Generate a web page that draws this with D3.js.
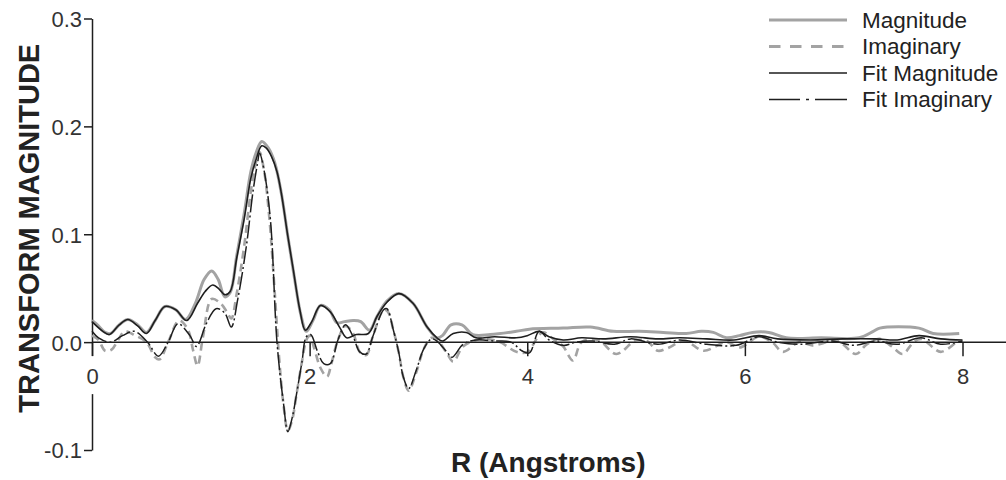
<!DOCTYPE html>
<html>
<head>
<meta charset="utf-8">
<script src="https://cdn.jsdelivr.net/npm/d3@7"></script>
<style>
  html, body { margin: 0; padding: 0; background: #fff; }
  svg { display: block; }
  text { font-family: "Liberation Sans", Arial, sans-serif; }
</style>
</head>
<body>
<svg id="chart" width="1006" height="480"></svg>
<script>
// ---------------- data ----------------
const magR = [0,0.05,0.12,0.17,0.25,0.33,0.42,0.50,0.58,0.67,0.77,0.86,0.95,1.03,1.10,1.16,1.22,1.27,1.33,1.40,1.46,1.51,1.56,1.62,1.68,1.74,1.80,1.86,1.92,1.97,2.03,2.10,2.18,2.25,2.32,2.40,2.47,2.55,2.62,2.71,2.82,2.95,3.08,3.17,3.22,3.30,3.40,3.50,3.66,3.90,4.02,4.33,4.58,4.79,5.03,5.25,5.46,5.60,5.71,5.83,5.95,6.07,6.22,6.38,6.70,7.05,7.18,7.24,7.60,7.73,7.97];
const magV = [0.020,0.016,0.009,0.008,0.016,0.021,0.016,0.009,0.020,0.033,0.030,0.021,0.036,0.058,0.066,0.058,0.042,0.046,0.080,0.120,0.158,0.176,0.186,0.180,0.166,0.138,0.098,0.060,0.025,0.010,0.020,0.034,0.030,0.018,0.019,0.020,0.019,0.011,0.024,0.038,0.045,0.036,0.014,0.004,0.006,0.016,0.016,0.007,0.007,0.010,0.012,0.013,0.014,0.010,0.010,0.009,0.008,0.010,0.009,0.004,0.006,0.009,0.009,0.004,0.004,0.004,0.010,0.013,0.013,0.008,0.008];

const imagR = [0,0.06,0.12,0.18,0.24,0.30,0.40,0.50,0.58,0.62,0.70,0.80,0.88,0.93,0.97,1.02,1.10,1.18,1.24,1.28,1.33,1.40,1.46,1.51,1.54,1.58,1.63,1.68,1.72,1.76,1.80,1.84,1.88,1.93,1.97,2.00,2.04,2.10,2.16,2.20,2.26,2.33,2.40,2.46,2.52,2.58,2.68,2.72,2.77,2.82,2.86,2.91,2.98,3.05,3.12,3.18,3.26,3.32,3.41,3.53,3.62,3.75,3.90,4.00,4.14,4.25,4.33,4.42,4.50,4.65,4.82,5.00,5.10,5.20,5.28,5.45,5.62,5.83,5.95,6.13,6.25,6.35,6.50,6.62,6.85,7.02,7.12,7.24,7.35,7.45,7.55,7.62,7.80,7.93];
const imagV = [0.006,0.002,-0.008,-0.007,0.002,0.010,0.006,0.000,-0.014,-0.016,0.000,0.020,0.012,-0.008,-0.022,0.005,0.040,0.036,0.028,0.022,0.045,0.090,0.140,0.168,0.176,0.160,0.115,0.045,-0.015,-0.058,-0.082,-0.072,-0.048,-0.018,0.002,0.006,-0.005,-0.024,-0.032,-0.020,0.002,0.015,0.008,-0.009,-0.012,0.005,0.030,0.028,0.011,-0.010,-0.032,-0.045,-0.028,-0.006,0.004,0.001,-0.010,-0.018,-0.004,0.002,0.003,0.000,-0.009,-0.009,0.009,0.002,-0.004,-0.017,0.000,0.002,-0.011,0.002,0.001,-0.008,-0.006,0.001,-0.008,0.000,-0.005,0.005,0.000,-0.009,0.000,-0.003,0.001,-0.011,-0.002,0.003,-0.004,-0.011,0.000,0.003,-0.009,-0.001];

const fitMagR = [0,0.10,0.16,0.25,0.33,0.42,0.50,0.58,0.67,0.77,0.87,0.97,1.04,1.11,1.17,1.22,1.27,1.33,1.40,1.46,1.51,1.56,1.60,1.65,1.70,1.74,1.80,1.85,1.91,1.96,2.02,2.10,2.19,2.28,2.34,2.43,2.54,2.62,2.71,2.82,2.95,3.08,3.17,3.22,3.32,3.44,3.53,3.70,3.90,4.00,4.11,4.20,4.33,4.50,4.70,4.95,5.20,5.40,5.65,5.90,6.13,6.30,6.60,6.90,7.20,7.40,7.60,7.80,8.00];
const fitMagV = [0.019,0.010,0.007,0.016,0.021,0.015,0.008,0.020,0.033,0.030,0.020,0.036,0.047,0.053,0.049,0.044,0.047,0.078,0.115,0.152,0.170,0.182,0.180,0.172,0.158,0.138,0.098,0.067,0.030,0.011,0.019,0.034,0.028,0.013,0.004,0.007,0.008,0.024,0.037,0.045,0.036,0.014,0.004,0.001,0.008,0.009,0.004,0.005,0.004,0.006,0.010,0.005,0.002,0.004,0.003,0.005,0.003,0.004,0.003,0.002,0.006,0.003,0.002,0.003,0.003,0.002,0.006,0.003,0.002];

const fitImagR = [0,0.06,0.17,0.28,0.39,0.51,0.61,0.70,0.79,0.90,0.96,1.05,1.14,1.22,1.28,1.34,1.42,1.48,1.52,1.54,1.58,1.64,1.70,1.76,1.80,1.84,1.88,1.93,1.97,2.01,2.07,2.13,2.19,2.26,2.33,2.40,2.46,2.52,2.58,2.68,2.71,2.77,2.82,2.86,2.91,2.98,3.05,3.12,3.17,3.26,3.31,3.41,3.53,3.70,3.85,3.95,4.02,4.11,4.20,4.33,4.45,4.60,4.80,4.95,5.20,5.40,5.65,5.92,6.13,6.30,6.50,6.80,7.00,7.20,7.40,7.62,7.80,8.00];
const fitImagV = [0.010,0.004,0.000,0.006,0.010,0.000,-0.013,0.000,0.017,0.006,-0.004,0.017,0.031,0.027,0.014,0.040,0.090,0.140,0.165,0.175,0.160,0.113,0.000,-0.057,-0.083,-0.070,-0.048,-0.018,0.005,0.007,-0.008,-0.020,-0.020,0.002,0.016,0.005,-0.009,-0.011,0.005,0.030,0.031,0.011,-0.010,-0.032,-0.043,-0.026,-0.006,0.003,0.001,-0.009,-0.014,-0.002,0.002,0.001,0.000,-0.008,-0.010,0.010,0.002,-0.003,0.000,0.001,-0.002,0.003,-0.002,0.002,-0.002,-0.003,0.005,0.000,-0.002,0.001,-0.003,0.001,-0.002,0.004,-0.002,0.001];

const xTicks = [0, 2, 4, 6, 8];
const yTicks = [-0.1, 0.0, 0.1, 0.2, 0.3];
const legendLabels = ["Magnitude", "Imaginary", "Fit Magnitude", "Fit Imaginary"];
const xTitle = "R (Angstroms)";
const yTitle = "TRANSFORM MAGNITUDE";

// ---------------- styles ----------------
const GRAY = "#a3a3a3";
const INK = "#1e1e1e";
const styles = [
  { stroke: GRAY, width: 3,   dash: null,        legendDash: null },
  { stroke: GRAY, width: 2.6, dash: "8,5",       legendDash: "11.5,9.5" },
  { stroke: INK,  width: 1.6, dash: null,        legendDash: null },
  { stroke: INK,  width: 1.5, dash: "18,3,2,3",  legendDash: "31,6,3,6,40" }
];

// ---------------- chart ----------------
const W = 1006, H = 480;
const svg = d3.select("#chart");
svg.append("rect").attr("width", W).attr("height", H).attr("fill", "#fff");

const x = d3.scaleLinear().domain([0, 8]).range([92, 962.5]);
const y = d3.scaleLinear().domain([-0.1, 0.3]).range([450, 18.5]);

// y axis
const yAxis = d3.axisLeft(y).tickValues(yTicks).tickSize(8).tickSizeOuter(0).tickPadding(2)
  .tickFormat(d => d.toFixed(1));
const gy = svg.append("g").attr("transform", `translate(${x(0)},0)`).call(yAxis);
gy.select(".domain").attr("stroke", INK).attr("stroke-width", 1.5);
gy.selectAll(".tick line").attr("stroke", INK).attr("stroke-width", 1.5);
gy.selectAll(".tick text").attr("font-size", 22).attr("fill", "#333").attr("dy", "0.36em");

// series
const series = [
  magR.map((r, i) => [r, magV[i]]),
  imagR.map((r, i) => [r, imagV[i]]),
  fitMagR.map((r, i) => [r, fitMagV[i]]),
  fitImagR.map((r, i) => [r, fitImagV[i]])
];
const line = d3.line().x(d => x(d[0])).y(d => y(d[1])).curve(d3.curveCatmullRom.alpha(0.5));
series.forEach((s, i) => {
  svg.append("path").datum(s)
    .attr("d", line)
    .attr("fill", "none")
    .attr("stroke", styles[i].stroke)
    .attr("stroke-width", styles[i].width)
    .attr("stroke-linejoin", "round")
    .attr("stroke-dasharray", styles[i].dash);
});

// x axis along y = 0
const xAxis = d3.axisBottom(x).tickValues(xTicks).tickSize(14).tickSizeOuter(0).tickPadding(12)
  .tickFormat(d3.format("d"));
const gx = svg.append("g").attr("transform", `translate(0,${y(0)})`).call(xAxis);
gx.select(".domain").remove();
gx.insert("line", ":first-child")
  .attr("x1", x(0)).attr("x2", W).attr("y1", 0).attr("y2", 0)
  .attr("stroke", INK).attr("stroke-width", 1.5);
gx.selectAll(".tick line").attr("stroke", INK).attr("stroke-width", 1.5);
gx.selectAll(".tick").filter(d => d === 0)
  .insert("rect", "text")
  .attr("x", -8).attr("y", 14).attr("width", 16).attr("height", 38).attr("fill", "#fff");
gx.selectAll(".tick text").attr("font-size", 22).attr("fill", "#333");

// titles
svg.append("text")
  .attr("x", (x(0) + x(8)) / 2 + 21).attr("y", 472)
  .attr("text-anchor", "middle")
  .attr("font-size", 28).attr("font-weight", "bold").attr("fill", "#222")
  .text(xTitle);
svg.append("text")
  .attr("transform", `translate(39,${(y(-0.1) + y(0.3)) / 2 - 6}) rotate(-90)`)
  .attr("text-anchor", "middle")
  .attr("font-size", 29).attr("font-weight", "bold").attr("fill", "#222")
  .text(yTitle);

// legend
const legend = svg.append("g").attr("transform", "translate(769,20)");
legendLabels.forEach((lab, i) => {
  const g = legend.append("g").attr("transform", `translate(0,${i * 26.5})`);
  g.append("line").attr("x1", 0).attr("x2", 78).attr("y1", 0).attr("y2", 0)
    .attr("stroke", styles[i].stroke)
    .attr("stroke-width", i < 2 ? 3 : 1.6)
    .attr("stroke-dasharray", styles[i].legendDash);
  g.append("text").attr("x", 93).attr("y", 0).attr("dy", "0.35em")
    .attr("font-size", 22.5).attr("fill", "#222").text(lab);
});
</script>
</body>
</html>
